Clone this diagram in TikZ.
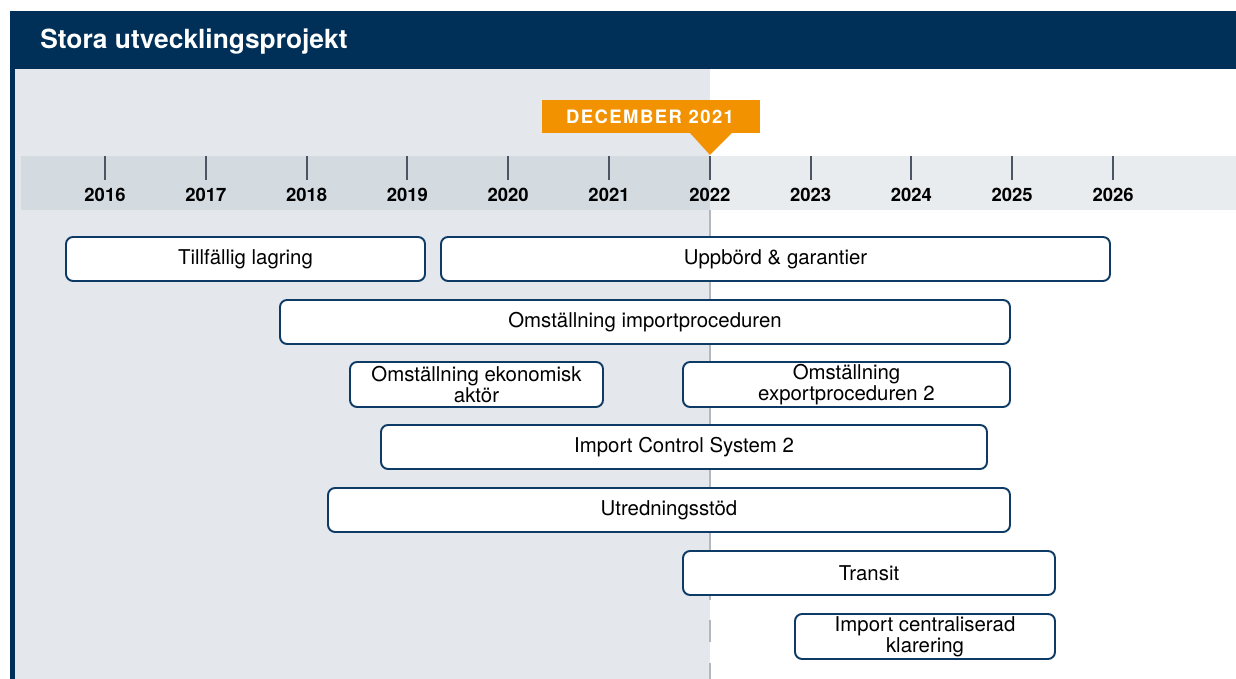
\documentclass[tikz,border=0pt]{standalone}
\usepackage{fontspec}
\setmainfont{TeX Gyre Heros}
\newfontfamily\spacedfont[LetterSpace=8]{TeX Gyre Heros}
\definecolor{navy}{HTML}{003057}
\definecolor{boxline}{HTML}{0D3B66}
\definecolor{pastgrey}{HTML}{E4E8ED}
\definecolor{banddark}{HTML}{D3DAE0}
\definecolor{bandlight}{HTML}{E9ECEF}
\definecolor{tickgrey}{HTML}{4B5563}
\definecolor{nowline}{HTML}{B4B8BC}
\definecolor{callout}{HTML}{F39200}
\begin{document}
\begin{tikzpicture}[
    projbox/.style={shape=rectangle, draw=boxline, fill=white, line width=1.1pt, rounded corners=4pt, inner sep=0, align=center, font=\fontsize{11.6}{10.6}\selectfont},
    yearlabel/.style={font=\fontsize{10.5}{12}\selectfont\bfseries}
]
	\useasboundingbox (0, 0) rectangle (24.72, 13.58);
	% background and header
	\fill[pastgrey] (0.3, 0) rectangle (14.2, 12.2);
	\fill[navy] (0.2, 12.2) rectangle (24.72, 13.36);
	\fill[navy] (0.2, 0) rectangle (0.3, 12.2);
	\node[anchor=west, inner sep=0, text=white, font=\fontsize{15}{17}\selectfont\bfseries] (title) at (0.8, 12.74) {Stora utvecklingsprojekt};
	% time axis
	\fill[banddark] (0.42, 9.38) rectangle (14.2, 10.46);
	\fill[bandlight] (14.2, 9.38) rectangle (24.72, 10.46);
	\foreach \yr [count=\i from 0] in {2016,...,2026} {
		\draw[tickgrey, line width=1.1pt] (2.1 + 2.016*\i, 10.46) -- (2.1 + 2.016*\i, 9.98);
		\node[yearlabel] (y\yr) at (2.1 + 2.016*\i, 9.68) {\yr};
	}
	% today marker
	\coordinate (nowtop) at (14.2, 9.38);
	\coordinate (nowmid) at (14.2, 1.58);
	\coordinate (nowlow) at (14.2, 1.18);
	\coordinate (nowend) at (14.2, 0);
	\draw[nowline, line width=0.8pt] (nowtop) -- (nowmid);
	\draw[nowline, line width=0.8pt, dash pattern=on 0.44cm off 0.42cm] (nowlow) -- (nowend);
	\fill[callout] (10.84, 10.92) rectangle (15.2, 11.58);
	\fill[callout] (13.8, 10.92) -- (14.64, 10.92) -- (14.2, 10.48) -- cycle;
	\node[text=white, font=\fontsize{10.5}{12}\spacedfont\bfseries] (dec) at (13.0, 11.25) {DECEMBER 2021};
	% projects
	\node[projbox, minimum width=7.18cm, minimum height=0.88cm] (lagring) at (4.91, 8.4) {Tillfällig lagring};
	\node[projbox, minimum width=13.38cm, minimum height=0.88cm] (uppbord) at (15.51, 8.4) {Uppbörd \& garantier};
	\node[projbox, minimum width=14.6cm, minimum height=0.88cm] (importproc) at (12.9, 7.14) {Omställning importproceduren};
	\node[projbox, minimum width=5.06cm, minimum height=0.9cm] (ekonomisk) at (9.53, 5.89) {Omställning ekonomisk\\aktör};
	\node[projbox, minimum width=6.54cm, minimum height=0.9cm] (exportproc) at (16.93, 5.89) {Omställning\\exportproceduren 2};
	\node[projbox, minimum width=12.12cm, minimum height=0.88cm] (ics) at (13.68, 4.64) {Import Control System 2};
	\node[projbox, minimum width=13.64cm, minimum height=0.88cm] (utredning) at (13.38, 3.38) {Utredningsstöd};
	\node[projbox, minimum width=7.44cm, minimum height=0.88cm] (transit) at (17.38, 2.12) {Transit};
	\node[projbox, minimum width=5.2cm, minimum height=0.9cm] (klarering) at (18.5, 0.85) {Import centraliserad\\klarering};
\end{tikzpicture}
\end{document}
